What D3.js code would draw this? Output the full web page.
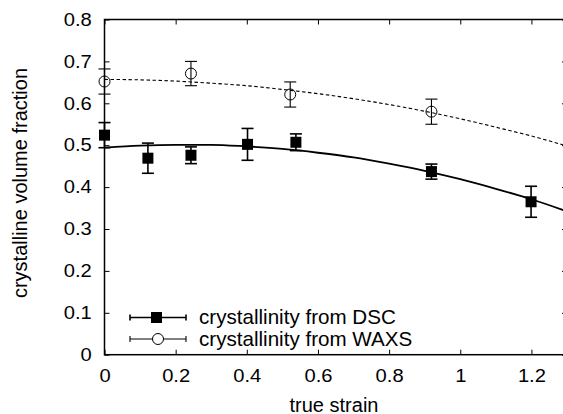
<!DOCTYPE html>
<html><head><meta charset="utf-8">
<script src="https://cdn.jsdelivr.net/npm/d3@7"></script>
<style>body{margin:0;background:#fff}svg{display:block}text{font-family:"Liberation Sans",Arial,sans-serif}</style>
</head><body>
<svg id="c" width="563" height="414"></svg>
<script>
// ---- data ----
const dscStrain = [0, 0.122, 0.243, 0.402, 0.538, 0.919, 1.199];
const dscValue  = [0.524, 0.469, 0.476, 0.502, 0.507, 0.437, 0.365];
const dscErr    = [0.030, 0.036, 0.020, 0.038, 0.020, 0.018, 0.037];
const waxsStrain = [0, 0.243, 0.522, 0.919];
const waxsValue  = [0.652, 0.671, 0.621, 0.580];
const waxsErr    = [0.030, 0.029, 0.030, 0.030];
const fitStrain = [0, 0.1, 0.2, 0.3, 0.4, 0.5, 0.6, 0.7, 0.8, 0.9, 1.0, 1.1, 1.2, 1.3];
const dscFit    = [0.494, 0.499, 0.501, 0.501, 0.497, 0.491, 0.482, 0.471, 0.456, 0.439, 0.419, 0.396, 0.371, 0.342];
const waxsFit   = [0.657, 0.656, 0.653, 0.648, 0.642, 0.633, 0.623, 0.611, 0.597, 0.581, 0.563, 0.543, 0.522, 0.498];
const xTicks = [0, 0.2, 0.4, 0.6, 0.8, 1, 1.2];
const yTicks = [0, 0.1, 0.2, 0.3, 0.4, 0.5, 0.6, 0.7, 0.8];
const legendLabels = ["crystallinity from DSC", "crystallinity from WAXS"];

const svg = d3.select("#c");
const L = 104.5, R = 567, T = 19.5, B = 354.7;
const x = d3.scaleLinear().domain([0, 1.3]).range([L, R]);
const y = d3.scaleLinear().domain([0, 0.8]).range([B, T]);
const SX = 1.12, TF = 18;

svg.append("clipPath").attr("id","clp").append("rect")
  .attr("x", L).attr("y", T).attr("width", R - L).attr("height", B - T);

// axes (inward ticks, mirrored)
const fmt = d => d === 0 ? "0" : d3.format("~g")(d);
const ax = svg.append("g").attr("transform", `translate(0,${B})`)
  .call(d3.axisBottom(x).tickValues(xTicks).tickSize(-5).tickPadding(15).tickFormat(fmt));
const axT = svg.append("g").attr("transform", `translate(0,${T})`)
  .call(d3.axisTop(x).tickValues(xTicks).tickSize(-5).tickFormat(""));
const ay = svg.append("g").attr("transform", `translate(${L},0)`)
  .call(d3.axisLeft(y).tickValues(yTicks).tickSize(-5).tickPadding(12.8).tickFormat(fmt));
const ayR = svg.append("g").attr("transform", `translate(${R},0)`)
  .call(d3.axisRight(y).tickValues(yTicks).tickSize(-5).tickFormat(""));
[ax, axT, ay, ayR].forEach(g => {
  g.select(".domain").remove();
  g.selectAll(".tick line").attr("stroke", "#000").attr("stroke-width", 1);
  g.selectAll("text").attr("font-size", TF).attr("fill", "#000")
    .style("font-family", '"Liberation Sans",Arial,sans-serif')
    .attr("transform", `scale(${SX},1)`);
});
ay.selectAll("text").attr("x", -12.8 / SX);
svg.append("rect").attr("x", L).attr("y", T).attr("width", R - L).attr("height", B - T)
  .attr("fill", "none").attr("stroke", "#000").attr("stroke-width", 1.5);

// axis titles
svg.append("text").attr("x", 334).attr("y", 411.5).attr("text-anchor", "middle")
  .attr("font-size", 20).text("true strain");
svg.append("text").attr("transform", "translate(26.5,183) rotate(-90)").attr("text-anchor", "middle")
  .attr("font-size", 20).text("crystalline volume fraction");

const curves = svg.append("g").attr("clip-path", "url(#clp)");
const plot = svg.append("g");
const line = d3.line().x(d => x(d[0])).y(d => y(d[1])).curve(d3.curveMonotoneX);

// fit curves
curves.append("path").datum(fitStrain.map((s, i) => [s, dscFit[i]])).attr("d", line)
  .attr("fill", "none").attr("stroke", "#000").attr("stroke-width", 1.8);
curves.append("path").datum(fitStrain.map((s, i) => [s, waxsFit[i]])).attr("d", line)
  .attr("fill", "none").attr("stroke", "#000").attr("stroke-width", 1.1).attr("stroke-dasharray", "3.5,2.5");

// error bars
function errbars(xs, vs, es, sw, capW) {
  const g = plot.append("g").attr("stroke", "#000").attr("stroke-width", sw);
  xs.forEach((s, i) => {
    const cx = x(s), y1 = y(vs[i] + es[i]), y2 = y(vs[i] - es[i]);
    g.append("line").attr("x1", cx).attr("x2", cx).attr("y1", y1).attr("y2", y2);
    g.append("line").attr("x1", cx - capW).attr("x2", cx + capW).attr("y1", y1).attr("y2", y1);
    g.append("line").attr("x1", cx - capW).attr("x2", cx + capW).attr("y1", y2).attr("y2", y2);
  });
}
errbars(dscStrain, dscValue, dscErr, 1.6, 6);
errbars(waxsStrain, waxsValue, waxsErr, 1.1, 6);

// markers
plot.selectAll(".sq").data(dscStrain).enter().append("rect")
  .attr("x", (d) => x(d) - 5.5).attr("y", (d, i) => y(dscValue[i]) - 5.5)
  .attr("width", 11).attr("height", 11).attr("fill", "#000");
plot.selectAll(".ci").data(waxsStrain).enter().append("circle")
  .attr("cx", d => x(d)).attr("cy", (d, i) => y(waxsValue[i])).attr("r", 5.5)
  .attr("fill", "none").attr("stroke", "#000").attr("stroke-width", 1);

// legend
const lg = svg.append("g");
const ly = [317.5, 339];
[0, 1].forEach(i => {
  const sw = i === 0 ? 1.6 : 1.1;
  lg.append("line").attr("x1", 130).attr("x2", 186).attr("y1", ly[i]).attr("y2", ly[i])
    .attr("stroke", "#000").attr("stroke-width", sw);
  [130, 186].forEach(cx => lg.append("line").attr("x1", cx).attr("x2", cx)
    .attr("y1", ly[i] - 3).attr("y2", ly[i] + 3).attr("stroke", "#000").attr("stroke-width", sw));
  if (i === 0) lg.append("rect").attr("x", 151).attr("y", ly[i] - 5.5).attr("width", 11).attr("height", 11).attr("fill", "#000");
  else lg.append("circle").attr("cx", 158).attr("cy", ly[i]).attr("r", 5.5).attr("fill", "#fff").attr("stroke", "#000").attr("stroke-width", 1);
  lg.append("text").attr("x", 199).attr("y", ly[i]).attr("dy", "0.33em").attr("font-size", 20.6).text(legendLabels[i]);
});
</script>
</body></html>
